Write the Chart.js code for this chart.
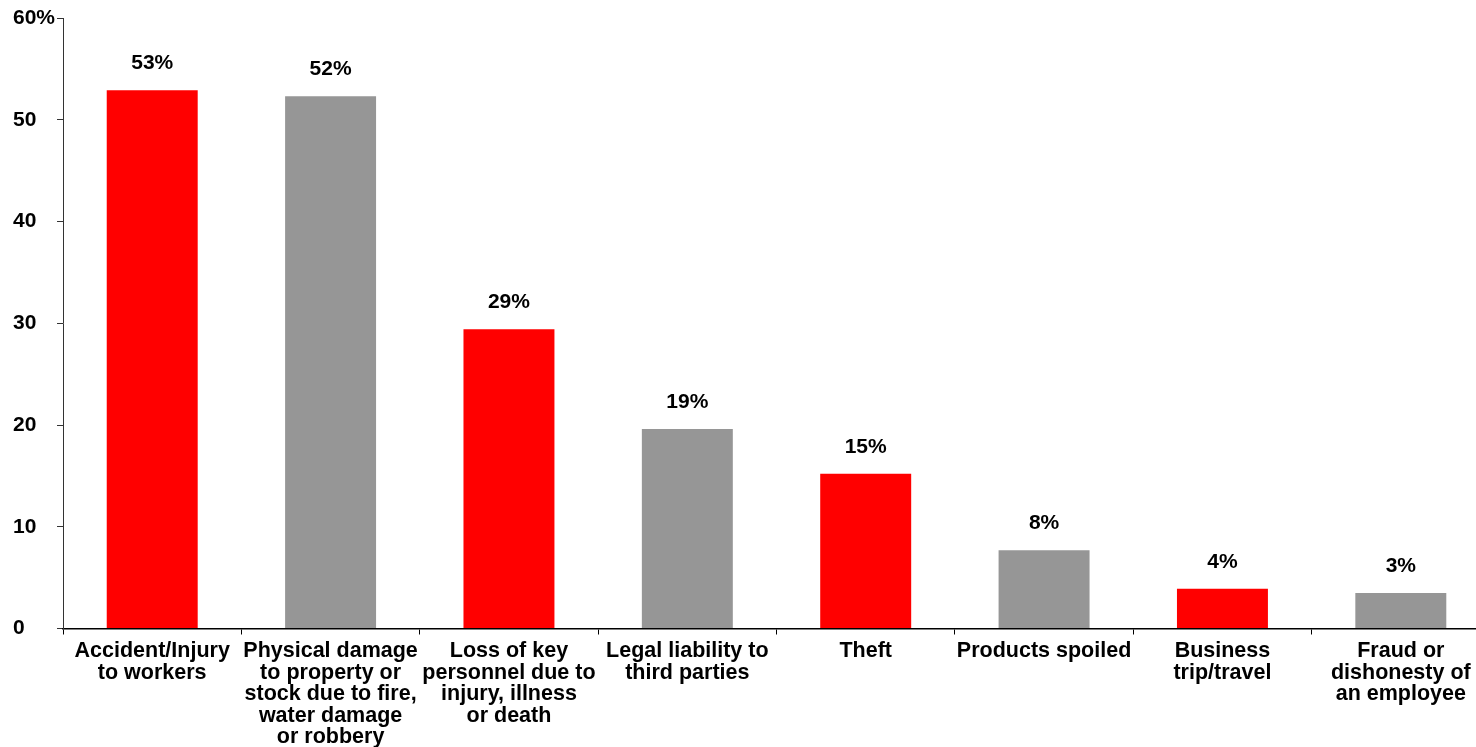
<!DOCTYPE html>
<html>
<head>
<meta charset="utf-8">
<script src="https://cdn.jsdelivr.net/npm/chart.js@4.4.1/dist/chart.umd.min.js"></script>
<style>
  html, body { margin: 0; padding: 0; background: #fff; overflow: hidden; }
  #wrap { width: 1490px; height: 754px; position: relative; }
</style>
</head>
<body>
<div id="wrap"><canvas id="chart"></canvas></div>
<script>
var categories = [
  ["Accident/Injury", "to workers"],
  ["Physical damage", "to property or", "stock due to fire,", "water damage", "or robbery"],
  ["Loss of key", "personnel due to", "injury, illness", "or death"],
  ["Legal liability to", "third parties"],
  ["Theft"],
  ["Products spoiled"],
  ["Business", "trip/travel"],
  ["Fraud or", "dishonesty of", "an employee"]
];
var shares = [52.9, 52.3, 29.4, 19.6, 15.2, 7.7, 3.9, 3.5];
var shareLabels = ["53%", "52%", "29%", "19%", "15%", "8%", "4%", "3%"];
var barColors = ["#ff0000", "#969696", "#ff0000", "#969696", "#ff0000", "#969696", "#ff0000", "#969696"];
var yTicks = [0, 10, 20, 30, 40, 50, 60];

var font = "'Liberation Sans', Arial, sans-serif";

// labels above each bar
var valueLabels = {
  id: 'valueLabels',
  afterDatasetsDraw: function(chart) {
    var ctx = chart.ctx;
    var meta = chart.getDatasetMeta(0);
    ctx.save();
    ctx.font = "bold 21px " + font;
    ctx.fillStyle = "#000";
    ctx.textAlign = "center";
    ctx.textBaseline = "alphabetic";
    meta.data.forEach(function(bar, i) {
      ctx.fillText(shareLabels[i], bar.x, bar.y - 21);
    });
    ctx.restore();
  }
};

var ctx = document.getElementById("chart");
new Chart(ctx, {
  type: 'bar',
  data: {
    labels: categories,
    datasets: [{
      data: shares,
      backgroundColor: barColors,
      barPercentage: 0.51,
      categoryPercentage: 1.0
    }]
  },
  options: {
    responsive: true,
    maintainAspectRatio: false,
    animation: false,
    layout: { padding: { left: 13, top: 18, right: 0, bottom: 0 } },
    plugins: {
      legend: { display: false },
      tooltip: { enabled: false }
    },
    scales: {
      x: {
        grid: {
          offset: true,
          drawOnChartArea: false,
          tickLength: 6,
          color: "#000",
          tickColor: "#000"
        },
        border: { color: "#000", width: 1.5 },
        ticks: {
          maxRotation: 0,
          autoSkip: false,
          padding: 6,
          color: "#000",
          font: { family: font, size: 21.5, weight: "bold", lineHeight: 1.0 }
        }
      },
      y: {
        min: 0,
        max: 60,
        afterBuildTicks: function(scale) {
          scale.ticks = yTicks.map(function(v) { return { value: v }; });
        },
        grid: {
          drawOnChartArea: false,
          tickLength: 6,
          color: "#333",
          tickColor: "#333"
        },
        border: { color: "#333", width: 1 },
        ticks: {
          crossAlign: "far",
          padding: 1,
          color: "#000",
          font: { family: font, size: 21, weight: "bold" },
          callback: function(v) { return v === 60 ? "60%" : String(v); }
        }
      }
    }
  },
  plugins: [valueLabels]
});
</script>
</body>
</html>
